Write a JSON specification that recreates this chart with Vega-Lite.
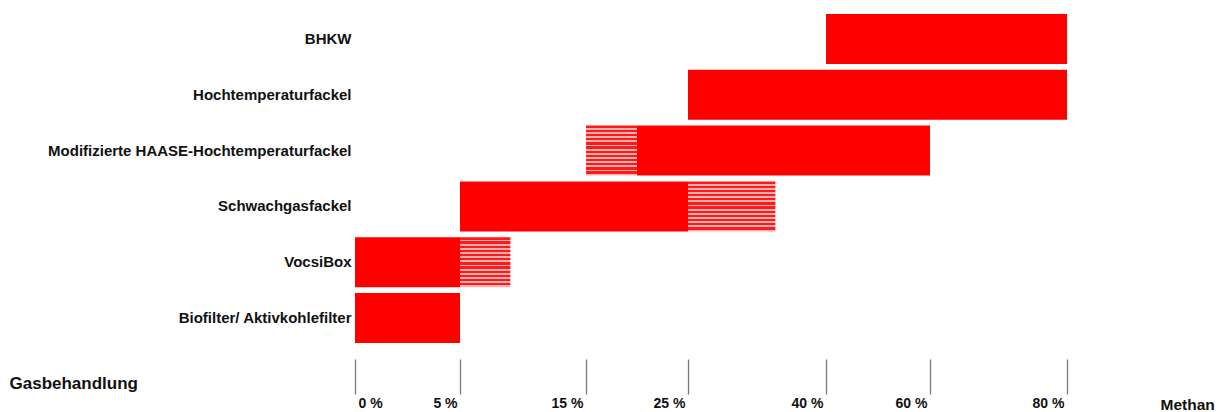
{
  "$schema": "https://vega.github.io/schema/vega-lite/v6.json",
  "autosize": "none",
  "width": 864,
  "height": 335,
  "padding": {"left": 355, "top": 11, "right": 0, "bottom": 66},
  "background": "white",
  "config": {"view": {"stroke": null}, "font": "Liberation Sans"},
  "data": {
    "values": [
      {"g": "BHKW", "start": 40, "end": 80, "type": "solid"},
      {"g": "Hochtemperaturfackel", "start": 25, "end": 80, "type": "solid"},
      {"g": "Modifizierte HAASE-Hochtemperaturfackel", "start": 15, "end": 20, "type": "hatched"},
      {"g": "Modifizierte HAASE-Hochtemperaturfackel", "start": 20, "end": 60, "type": "solid"},
      {"g": "Schwachgasfackel", "start": 5, "end": 25, "type": "solid"},
      {"g": "Schwachgasfackel", "start": 25, "end": 34.5, "type": "hatched"},
      {"g": "VocsiBox", "start": 0, "end": 5, "type": "solid"},
      {"g": "VocsiBox", "start": 5, "end": 9, "type": "hatched"},
      {"g": "Biofilter/ Aktivkohlefilter", "start": 0, "end": 5, "type": "solid"}
    ]
  },
  "encoding": {
    "y": {
      "field": "g", "type": "nominal",
      "sort": ["BHKW", "Hochtemperaturfackel", "Modifizierte HAASE-Hochtemperaturfackel", "Schwachgasfackel", "VocsiBox", "Biofilter/ Aktivkohlefilter"],
      "scale": {"paddingInner": 0.104, "paddingOuter": 0.052},
      "axis": {
        "title": "Gasbehandlung", "titleAngle": 0, "titleAlign": "left", "titleBaseline": "middle",
        "titleX": -346, "titleY": 372, "titleFontSize": 17, "titleFontWeight": "bold", "titleColor": "#111111",
        "domain": false, "ticks": false, "labelFontSize": 15, "labelFontWeight": "bold", "labelColor": "#111111",
        "labelPadding": 4, "labelLimit": 400
      }
    },
    "x": {
      "field": "start", "type": "quantitative",
      "scale": {"domain": [0, 5, 15, 25, 40, 60, 80], "range": [0, 105, 231, 333, 471, 575, 712], "nice": false, "zero": false},
      "axis": {
        "title": "Methan", "titleAlign": "left", "titleBaseline": "middle", "titleX": 805, "titleY": 45,
        "titleFontSize": 15.5, "titleFontWeight": "bold", "titleColor": "#111111",
        "values": [0, 5, 15, 25, 40, 60, 80], "labelExpr": "datum.value + ' %'",
        "domain": false, "grid": false, "offset": 13, "tickSize": 35, "tickColor": "#777777", "tickWidth": 1.3,
        "labelFontSize": 14, "labelFontWeight": "bold", "labelColor": "#111111", "labelPadding": 2,
        "labelAlign": {"condition": {"test": "datum.value == 0", "value": "left"}, "value": "right"},
        "labelOffset": {"condition": {"test": "datum.value == 0", "value": 3}, "value": -3},
        "labelBound": false, "labelFlush": false, "labelOverlap": false
      }
    },
    "x2": {"field": "end"}
  },
  "layer": [
    {
      "transform": [{"filter": "datum.type == 'solid'"}],
      "mark": {"type": "bar", "color": "#ff0000"}
    },
    {
      "transform": [{"filter": "datum.type == 'hatched'"}],
      "mark": {
        "type": "bar",
        "color": {
          "gradient": "linear", "x1": 0, "y1": 0, "x2": 0, "y2": 1,
          "stops": [
            {"offset": 0, "color": "#ff1a1a"}, {"offset": 0.0458, "color": "#ff1a1a"}, {"offset": 0.0458, "color": "#ffb0b0"}, {"offset": 0.0833, "color": "#ffb0b0"},
            {"offset": 0.0833, "color": "#ff1a1a"}, {"offset": 0.1292, "color": "#ff1a1a"}, {"offset": 0.1292, "color": "#ffb0b0"}, {"offset": 0.1667, "color": "#ffb0b0"},
            {"offset": 0.1667, "color": "#ff1a1a"}, {"offset": 0.2125, "color": "#ff1a1a"}, {"offset": 0.2125, "color": "#ffb0b0"}, {"offset": 0.25, "color": "#ffb0b0"},
            {"offset": 0.25, "color": "#ff1a1a"}, {"offset": 0.2958, "color": "#ff1a1a"}, {"offset": 0.2958, "color": "#ffb0b0"}, {"offset": 0.3333, "color": "#ffb0b0"},
            {"offset": 0.3333, "color": "#ff1a1a"}, {"offset": 0.3792, "color": "#ff1a1a"}, {"offset": 0.3792, "color": "#ffb0b0"}, {"offset": 0.4167, "color": "#ffb0b0"},
            {"offset": 0.4167, "color": "#ff1a1a"}, {"offset": 0.4625, "color": "#ff1a1a"}, {"offset": 0.4625, "color": "#ffb0b0"}, {"offset": 0.5, "color": "#ffb0b0"},
            {"offset": 0.5, "color": "#ff1a1a"}, {"offset": 0.5458, "color": "#ff1a1a"}, {"offset": 0.5458, "color": "#ffb0b0"}, {"offset": 0.5833, "color": "#ffb0b0"},
            {"offset": 0.5833, "color": "#ff1a1a"}, {"offset": 0.6292, "color": "#ff1a1a"}, {"offset": 0.6292, "color": "#ffb0b0"}, {"offset": 0.6667, "color": "#ffb0b0"},
            {"offset": 0.6667, "color": "#ff1a1a"}, {"offset": 0.7125, "color": "#ff1a1a"}, {"offset": 0.7125, "color": "#ffb0b0"}, {"offset": 0.75, "color": "#ffb0b0"},
            {"offset": 0.75, "color": "#ff1a1a"}, {"offset": 0.7958, "color": "#ff1a1a"}, {"offset": 0.7958, "color": "#ffb0b0"}, {"offset": 0.8333, "color": "#ffb0b0"},
            {"offset": 0.8333, "color": "#ff1a1a"}, {"offset": 0.8792, "color": "#ff1a1a"}, {"offset": 0.8792, "color": "#ffb0b0"}, {"offset": 0.9167, "color": "#ffb0b0"},
            {"offset": 0.9167, "color": "#ff1a1a"}, {"offset": 0.9625, "color": "#ff1a1a"}, {"offset": 0.9625, "color": "#ffb0b0"}, {"offset": 1, "color": "#ffb0b0"}
          ]
        }
      }
    }
  ]
}
